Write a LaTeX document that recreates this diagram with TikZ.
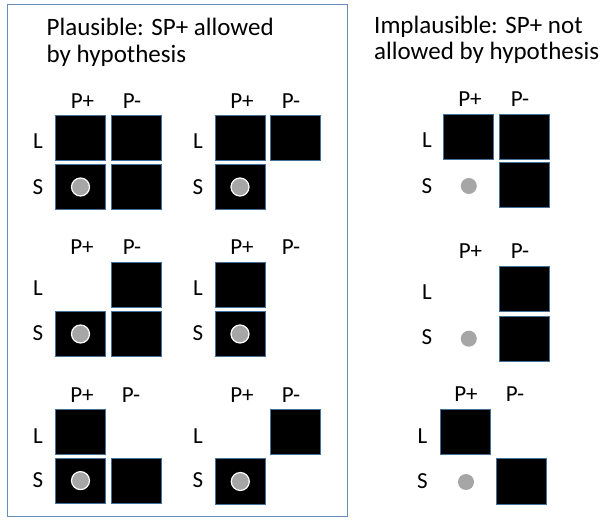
\documentclass[tikz,border=0pt]{standalone}
\usepackage{fontspec}
\setmainfont{Carlito}
\definecolor{edgeblue}{RGB}{65,113,156}
\definecolor{frameblue}{RGB}{100,140,188}
\definecolor{dotgray}{RGB}{166,166,166}
\begin{document}
\begin{tikzpicture}[x=1pt,y=-1pt,
  cell/.style={draw=edgeblue,line width=1pt,fill=black,minimum width=50pt,minimum height=45pt,inner sep=0pt,outer sep=0pt},
  hole/.style={circle,fill=dotgray,draw=white,line width=1.2pt,minimum size=18pt,inner sep=0pt},
  ghost/.style={circle,fill=dotgray,minimum size=16pt,inner sep=0pt},
  lab/.style={inner sep=0pt,font=\fontsize{23}{23}\selectfont},
  title/.style={inner sep=0pt,anchor=base west,font=\fontsize{25}{25}\selectfont}]
\useasboundingbox (0,0) rectangle (611,521);
\draw[frameblue,line width=1pt] (7,5) rectangle (347.5,516.5);

% titles
\node[title] (t1a) at (46.5,36) {Plausible: SP+ allowed};
\node[title] (t1b) at (46.5,62.5) {by hypothesis};
\node[title] (t2a) at (374,33.5) {Implausible: SP+ not};
\node[title] (t2b) at (374,60) {allowed by hypothesis};

% ---------- grid 1 (top left)
\node[lab] (g1hp) at (82.5,101) {P+};
\node[lab] (g1hm) at (132,101) {P-};
\node[lab] (g1l) at (38,141) {L};
\node[lab] (g1s) at (38,187) {S};
\node[cell] (g1LP) at (80.5,138) {};
\node[cell] (g1LM) at (136,138) {};
\node[cell] (g1SP) at (80.5,187) {};
\node[cell] (g1SM) at (136,187) {};
\node[hole] (g1d) at (g1SP) {};

% ---------- grid 2 (top middle)
\node[lab] (g2hp) at (242,101) {P+};
\node[lab] (g2hm) at (291,101) {P-};
\node[lab] (g2l) at (198,141) {L};
\node[lab] (g2s) at (198,187) {S};
\node[cell] (g2LP) at (240,138) {};
\node[cell] (g2LM) at (295.5,138) {};
\node[cell] (g2SP) at (240,187) {};
\node[hole] (g2d) at (g2SP) {};

% ---------- grid 3 (middle left)
\node[lab] (g3hp) at (82,247) {P+};
\node[lab] (g3hm) at (132,247) {P-};
\node[lab] (g3l) at (38,288) {L};
\node[lab] (g3s) at (38,333) {S};
\node[cell] (g3LM) at (136,284.7) {};
\node[cell] (g3SP) at (80.5,334) {};
\node[cell] (g3SM) at (136,334) {};
\node[hole] (g3d) at (g3SP) {};

% ---------- grid 4 (middle middle)
\node[lab] (g4hp) at (242,247) {P+};
\node[lab] (g4hm) at (291,247) {P-};
\node[lab] (g4l) at (198,288) {L};
\node[lab] (g4s) at (198,333) {S};
\node[cell] (g4LP) at (240,284.7) {};
\node[cell] (g4SP) at (240,334) {};
\node[hole] (g4d) at (g4SP) {};

% ---------- grid 5 (bottom left)
\node[lab] (g5hp) at (82,395) {P+};
\node[lab] (g5hm) at (131,395) {P-};
\node[lab] (g5l) at (38,436) {L};
\node[lab] (g5s) at (38,480) {S};
\node[cell] (g5LP) at (80.5,432) {};
\node[cell] (g5SP) at (80.5,480.6) {};
\node[cell] (g5SM) at (136,480.6) {};
\node[hole] (g5d) at (g5SP) {};

% ---------- grid 6 (bottom middle)
\node[lab] (g6hp) at (242,395) {P+};
\node[lab] (g6hm) at (291,395) {P-};
\node[lab] (g6l) at (198,436) {L};
\node[lab] (g6s) at (198,480) {S};
\node[cell] (g6LM) at (295.5,432) {};
\node[cell] (g6SP) at (240.3,481.5) {};
\node[hole] (g6d) at (g6SP) {};

% ---------- right 1
\node[lab] (r1hp) at (470,99) {P+};
\node[lab] (r1hm) at (520,99) {P-};
\node[lab] (r1l) at (427,140) {L};
\node[lab] (r1s) at (427,186) {S};
\node[cell] (r1LP) at (468.8,136.7) {};
\node[cell] (r1LM) at (524.2,136.7) {};
\node[cell] (r1SM) at (524.2,185.4) {};
\node[ghost] (r1d) at (468.8,186) {};

% ---------- right 2
\node[lab] (r2hp) at (470.5,251.5) {P+};
\node[lab] (r2hm) at (520,251.5) {P-};
\node[lab] (r2l) at (427,292.5) {L};
\node[lab] (r2s) at (427,337) {S};
\node[cell] (r2LM) at (524.2,289.2) {};
\node[cell] (r2SM) at (524.2,338.8) {};
\node[ghost] (r2d) at (468.8,338.7) {};

% ---------- right 3
\node[lab] (r3hp) at (466,394) {P+};
\node[lab] (r3hm) at (515,394) {P-};
\node[lab] (r3l) at (422.5,436.5) {L};
\node[lab] (r3s) at (422.5,481.5) {S};
\node[cell] (r3LP) at (465.8,431.7) {};
\node[cell] (r3SM) at (521.4,481.5) {};
\node[ghost] (r3d) at (466,482) {};
\end{tikzpicture}
\end{document}
